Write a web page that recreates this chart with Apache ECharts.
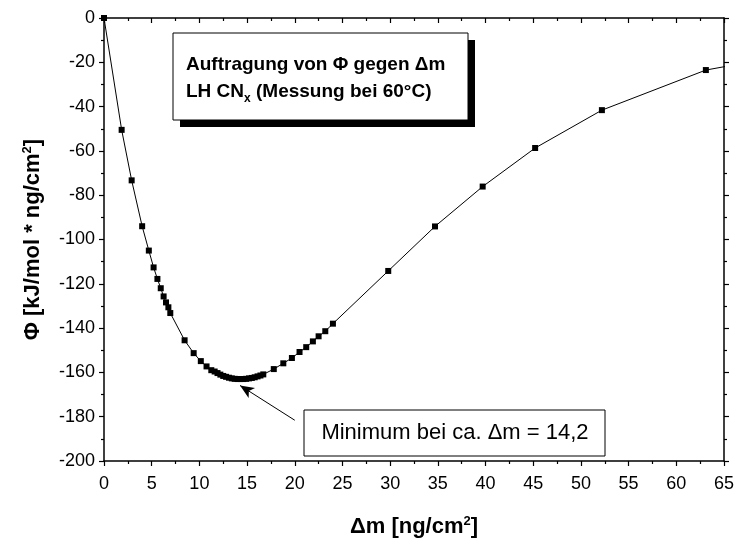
<!DOCTYPE html>
<html>
<head>
<meta charset="utf-8">
<script src="https://cdn.jsdelivr.net/npm/echarts@6/dist/echarts.min.js"></script>
<style>
  html, body { margin: 0; padding: 0; background: #fff; }
  #chart { width: 737px; height: 543px; }
</style>
</head>
<body>
<div id="chart"></div>
<script>
// Mass change Δm [ng/cm²]
const deltaM = [0, 1.85, 2.9, 4.0, 4.7, 5.2, 5.6, 5.95, 6.25, 6.5, 6.75, 6.95,
  8.45, 9.4, 10.15, 10.75, 11.25,
  11.6, 11.9, 12.2, 12.5, 12.8, 13.1, 13.4, 13.7, 14.0, 14.3, 14.6, 14.9, 15.2, 15.5, 15.8, 16.1, 16.4, 16.7,
  17.8, 18.8, 19.7, 20.5, 21.2, 21.9, 22.5, 23.2, 24.0,
  29.8, 34.7, 39.7, 45.2, 52.2, 63.1, 72.0];
// Φ [kJ/mol * ng/cm²]
const phi = [0, -50.5, -73.3, -94.0, -105.0, -112.6, -117.8, -122.0, -125.7, -128.4, -130.6, -133.2,
  -145.5, -151.3, -154.9, -157.3, -159.0,
  -159.6, -160.3, -161.0, -161.6, -162.0, -162.4, -162.7, -162.9, -163.0, -163.0, -163.0, -162.9, -162.7, -162.5, -162.2, -161.8, -161.4, -160.9,
  -158.5, -155.9, -153.5, -150.8, -148.6, -146.0, -143.7, -141.4, -138.0,
  -114.2, -94.1, -76.1, -58.7, -41.6, -23.5, -16.5];

// Axis ranges and tick steps
const xRange = [0, 65], xStep = 5;
const yRange = [-200, 0], yStep = 20;

// Arrow pointing at the minimum (tail, head)
const arrowTail = [20.0, -181.6];
const arrowHead = [14.26, -165.9];

const FONT = "'Liberation Sans', Arial, sans-serif";
const points = deltaM.map((x, i) => [x, phi[i]]);

const baseAxis = {
  axisLine: { show: true, onZero: false, lineStyle: { color: '#000', width: 1.5 } },
  axisTick: { show: true, inside: false, length: 5, lineStyle: { color: '#000', width: 1.2 } },
  minorTick: { show: true, splitNumber: 2, length: 3, lineStyle: { color: '#000', width: 1.2 } },
  splitLine: { show: false },
  minorSplitLine: { show: false }
};

const titleRich = {
  b: { fontFamily: FONT, fontSize: 22, fontWeight: 'bold', color: '#000' },
  sup: { fontFamily: FONT, fontSize: 13, fontWeight: 'bold', color: '#000', padding: [0, 0, 11, 0] }
};

const chart = echarts.init(document.getElementById('chart'), null, { renderer: 'canvas' });
chart.setOption({
  animation: false,
  backgroundColor: '#fff',
  grid: { left: 104, right: 13, top: 18, bottom: 79 },
  xAxis: [
    Object.assign({}, baseAxis, {
      type: 'value', min: xRange[0], max: xRange[1], interval: xStep, position: 'bottom',
      axisLabel: { color: '#000', fontFamily: FONT, fontSize: 18, margin: 14 },
      name: '{b|Δm [ng/cm}{sup|2}{b|]}',
      nameLocation: 'middle', nameGap: 54,
      nameTextStyle: { rich: titleRich }
    }),
    Object.assign({}, baseAxis, {
      type: 'value', min: xRange[0], max: xRange[1], interval: xStep, position: 'top',
      axisTick: Object.assign({}, baseAxis.axisTick, { inside: true }),
      minorTick: Object.assign({}, baseAxis.minorTick, { inside: true }),
      axisLabel: { show: false }
    })
  ],
  yAxis: [
    Object.assign({}, baseAxis, {
      type: 'value', min: yRange[0], max: yRange[1], interval: yStep, position: 'left',
      axisLabel: { color: '#000', fontFamily: FONT, fontSize: 18, margin: 9 },
      name: '{b|Φ [kJ/mol * ng/cm}{sup|2}{b|]}',
      nameLocation: 'middle', nameRotate: 90, nameGap: 59,
      nameTextStyle: { rich: titleRich }
    }),
    Object.assign({}, baseAxis, {
      type: 'value', min: yRange[0], max: yRange[1], interval: yStep, position: 'right',
      axisLabel: { show: false }
    })
  ],
  series: [{
    type: 'line',
    xAxisIndex: 0, yAxisIndex: 0,
    data: points,
    clip: true,
    symbol: 'rect',
    symbolSize: 6,
    showAllSymbol: true,
    itemStyle: { color: '#000' },
    lineStyle: { color: '#000', width: 1 },
    markLine: {
      silent: true,
      symbol: ['none', 'arrow'],
      symbolSize: [9, 14],
      label: { show: false },
      lineStyle: { color: '#000', width: 1, type: 'solid' },
      data: [[{ coord: arrowTail }, { coord: arrowHead }]]
    }
  }],
  graphic: [
    // title box with drop shadow
    { type: 'rect', shape: { x: 180, y: 40, width: 295, height: 87 }, style: { fill: '#000' }, z: 10 },
    { type: 'rect', shape: { x: 173, y: 33, width: 295, height: 87 }, style: { fill: '#fff', stroke: '#000', lineWidth: 1 }, z: 11 },
    { type: 'text', x: 186, y: 65, z: 12,
      style: { text: 'Auftragung von Φ gegen Δm', font: 'bold 19px ' + FONT, fill: '#000', verticalAlign: 'middle' } },
    { type: 'text', x: 186, y: 92, z: 12,
      style: {
        text: '{n|LH CN}{s|x}{n| (Messung bei 60°C)}',
        verticalAlign: 'middle',
        rich: {
          n: { font: 'bold 19px ' + FONT, fill: '#000', lineHeight: 22 },
          s: { font: 'bold 12px ' + FONT, fill: '#000', lineHeight: 12, padding: [14, 0, 0, 0] }
        }
      } },
    // annotation box for the minimum
    { type: 'rect', shape: { x: 304, y: 410, width: 301, height: 46 }, style: { fill: '#fff', stroke: '#000', lineWidth: 1 }, z: 11 },
    { type: 'text', x: 455, y: 433, z: 12,
      style: { text: 'Minimum bei ca. Δm = 14,2', font: '22px ' + FONT, fill: '#000', align: 'center', verticalAlign: 'middle' } }
  ]
});
</script>
</body>
</html>
